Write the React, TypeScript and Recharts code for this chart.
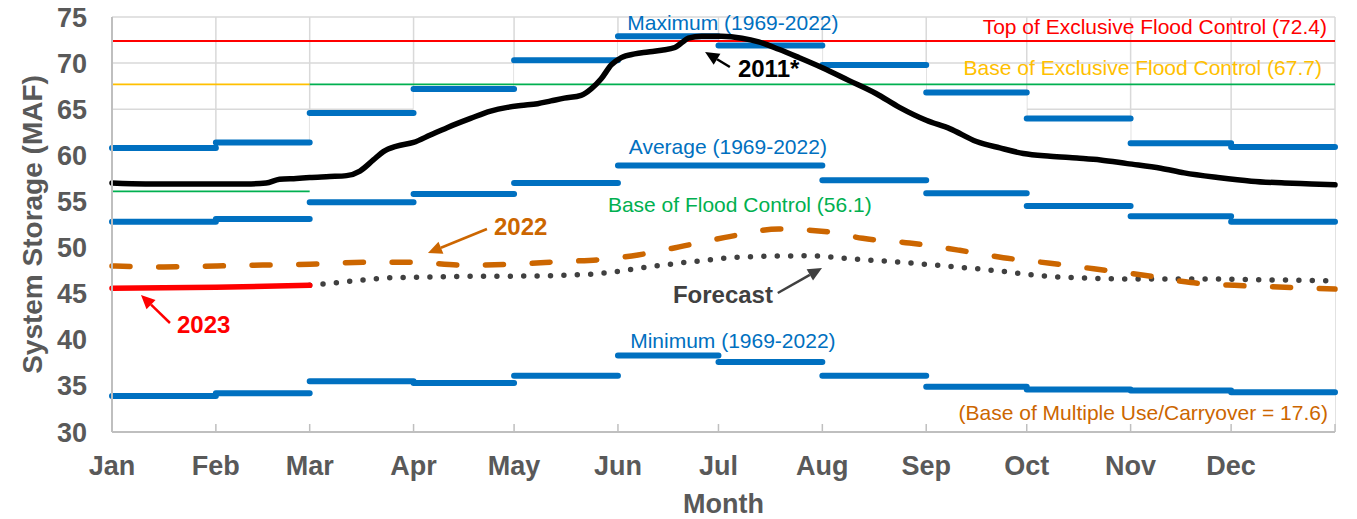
import {
  ComposedChart,
  Line,
  Area,
  XAxis,
  YAxis,
  CartesianGrid,
  ReferenceDot,
  ReferenceLine,
  Label,
} from 'recharts'

const monthLabels = ['Jan', 'Feb', 'Mar', 'Apr', 'May', 'Jun', 'Jul', 'Aug', 'Sep', 'Oct', 'Nov', 'Dec']
const monthStarts = [0, 31, 59, 90, 120, 151, 181, 212, 243, 273, 304, 334]
const yearEnd = 365
const storageTicks = [30, 35, 40, 45, 50, 55, 60, 65, 70, 75]

// monthly records 1969-2022 (MAF)
const maxStorage = [60.8, 61.4, 64.6, 67.2, 70.3, 72.9, 71.9, 69.8, 66.8, 64.0, 61.3, 60.9]
const avgStorage = [52.8, 53.1, 54.9, 55.8, 57.0, 58.9, 58.9, 57.3, 55.9, 54.5, 53.4, 52.8]
const minStorage = [33.9, 34.2, 35.5, 35.3, 36.1, 38.3, 37.6, 36.1, 34.9, 34.6, 34.5, 34.3]

// zones: [startDay, endDay, value]
const topExclusive = [[0, 365, 72.4]]
const baseExclusiveWinter = [[0, 59, 67.7]]
const baseExclusive = [[59, 365, 67.7]]
const baseFloodWinter = [[0, 59, 56.1]]

// [day, MAF]
const storage2011 = [
  [0, 57.0], [10, 56.9], [20, 56.9], [31, 56.9], [40, 56.9], [46, 57.0], [50, 57.4], [55, 57.5],
  [59, 57.6], [65, 57.7], [70, 57.8], [74, 58.3], [78, 59.5], [81, 60.4], [85, 61.0], [90, 61.4],
  [95, 62.2], [100, 63.0], [107, 64.0], [113, 64.8], [118, 65.2], [122, 65.4], [127, 65.6],
  [131, 65.9], [135, 66.2], [140, 66.5], [143, 67.2], [146, 68.3], [149, 69.8], [152, 70.6],
  [156, 71.0], [160, 71.2], [164, 71.4], [168, 71.7], [170, 72.2], [172, 72.7], [176, 72.9],
  [182, 72.9], [188, 72.7], [193, 72.3], [199, 71.5], [205, 70.6], [212, 69.5], [220, 68.1],
  [228, 66.7], [235, 65.2], [243, 63.8], [250, 62.9], [258, 61.5], [265, 60.8], [272, 60.2],
  [280, 59.9], [288, 59.7], [295, 59.5], [303, 59.1], [313, 58.6], [320, 58.1], [330, 57.6],
  [340, 57.2], [350, 57.0], [358, 56.9], [365, 56.8],
]
const storage2022 = [
  [0, 48.0], [15, 47.9], [31, 48.0], [45, 48.1], [59, 48.2], [75, 48.4], [90, 48.4], [105, 48.1],
  [120, 48.2], [135, 48.5], [146, 48.7], [157, 49.2], [167, 49.9], [183, 51.1], [199, 52.0],
  [214, 51.7], [224, 51.0], [238, 50.5], [253, 49.7], [266, 48.9], [280, 48.3], [293, 47.7],
  [308, 47.0], [322, 46.2], [335, 45.9], [350, 45.7], [365, 45.5],
]
const storage2023 = [[0, 45.6], [31, 45.7], [59, 45.9]]
const forecast2023 = [
  [59, 45.9], [70, 46.3], [82, 46.7], [95, 46.8], [110, 46.9], [120, 46.9], [135, 47.0],
  [146, 47.2], [160, 47.9], [174, 48.5], [189, 49.0], [209, 49.1], [220, 48.8], [239, 48.3],
  [261, 47.6], [283, 46.8], [305, 46.6], [326, 46.6], [345, 46.5], [365, 46.4],
]

const BLUE = '#0070C0'
const ORANGE = '#CC6600'
const GREY = '#595959'

const toPoints = (pairs: number[][]) => pairs.map(([day, v]) => ({ day, v }))
const monthEnd = (i: number) => (i < 11 ? monthStarts[i + 1] : yearEnd)
const monthSteps = (vals: number[]) =>
  vals.flatMap((v, i) => [
    { day: monthStarts[i], v },
    { day: monthEnd(i), v },
    { day: monthEnd(i), v: null },
  ])
const zone = (rows: number[][]) => rows.flatMap(([a, b, v]) => [{ day: a, v }, { day: b, v }])
const maxCover = [...monthStarts.map((day, i) => ({ day, v: maxStorage[i] })), { day: yearEnd, v: maxStorage[11] }]

const notes = [
  { text: 'Maximum (1969-2022)', day: 185.3, value: 73.59, anchor: 'middle', color: BLUE },
  { text: 'Top of Exclusive Flood Control (72.4)', day: 362.6, value: 73.16, anchor: 'end', color: '#FF0000' },
  { text: 'Base of Exclusive Flood Control (67.7)', day: 361.1, value: 68.71, anchor: 'end', color: '#FFC000' },
  { text: 'Average (1969-2022)', day: 183.8, value: 60.14, anchor: 'middle', color: BLUE },
  { text: 'Base of Flood Control (56.1)', day: 148, value: 53.85, anchor: 'start', color: '#00B050' },
  { text: 'Minimum (1969-2022)', day: 185.3, value: 39.1, anchor: 'middle', color: BLUE },
  { text: '(Base of Multiple Use/Carryover = 17.6)', day: 362.9, value: 31.3, anchor: 'end', color: ORANGE },
  { text: '2011*', day: 186.8, value: 68.49, anchor: 'start', color: '#000000', bold: true },
  { text: '2022', day: 114, value: 51.36, anchor: 'start', color: ORANGE, bold: true },
  { text: 'Forecast', day: 167.4, value: 43.99, anchor: 'start', color: '#404040', bold: true },
  { text: '2023', day: 19.4, value: 40.73, anchor: 'start', color: '#FF0000', bold: true },
]

const arrows = [
  { from: [184.4, 69.58], to: [177.0, 71.2], color: '#000000' },
  { from: [111.9, 52.01], to: [94.3, 49.41], color: ORANGE },
  { from: [198.7, 45.07], to: [211.9, 47.78], color: '#404040' },
  { from: [17.3, 41.82], to: [8.65, 44.86], color: '#FF0000' },
]

const arrowShape = (color: string) => (p: any) => {
  const { x1, y1, x2, y2 } = p
  const ang = Math.atan2(y2 - y1, x2 - x1)
  const len = 14
  const w = 6.5
  const bx = x2 - len * Math.cos(ang)
  const by = y2 - len * Math.sin(ang)
  const nx = -Math.sin(ang) * w
  const ny = Math.cos(ang) * w
  return (
    <g>
      <line x1={x1} y1={y1} x2={bx} y2={by} stroke={color} strokeWidth={2.5} />
      <polygon points={`${x2},${y2} ${bx + nx},${by + ny} ${bx - nx},${by - ny}`} fill={color} />
    </g>
  )
}

const MonthTick = (props: any) => {
  const { x, y, payload } = props
  const idx = monthStarts.indexOf(payload.value)
  return (
    <g>
      {payload.value > 0 && <line x1={x} x2={x} y1={y} y2={y - 8} stroke="#BFBFBF" strokeWidth={1.5} />}
      <text x={x} y={y + 43} textAnchor="middle" fill={GREY} fontSize={27} fontWeight="bold">
        {idx >= 0 ? monthLabels[idx] : ''}
      </text>
    </g>
  )
}

const MonthTitle = ({ viewBox }: any) => (
  <text x={viewBox.x + viewBox.width / 2} y={viewBox.y + 81} textAnchor="middle" fill={GREY} fontSize={27} fontWeight="bold">
    Month
  </text>
)

const StorageTitle = ({ viewBox }: any) => {
  const cx = viewBox.x + 42
  const cy = viewBox.y + viewBox.height / 2
  return (
    <text x={cx} y={cy} transform={`rotate(-90, ${cx}, ${cy})`} textAnchor="middle" fill={GREY} fontSize={28} fontWeight="bold">
      System Storage (MAF)
    </text>
  )
}

export default function App() {
  return (
    <div style={{ position: 'absolute', left: 0, top: 0, width: 1357, height: 519, background: '#fff', fontFamily: '"Liberation Sans", Arial, sans-serif' }}>
      <ComposedChart width={1357} height={519} margin={{ top: 17, right: 22, bottom: 0, left: 0 }}>
        <CartesianGrid stroke="#D9D9D9" strokeWidth={1.5} />
        <Area data={maxCover} dataKey="v" type="stepAfter" fill="#FFFFFF" fillOpacity={1} stroke="none" isAnimationActive={false} activeDot={false} />
        <XAxis
          dataKey="day"
          type="number"
          domain={[0, yearEnd]}
          ticks={[...monthStarts, yearEnd]}
          interval={0}
          tick={<MonthTick />}
          tickLine={false}
          tickSize={0}
          tickMargin={0}
          axisLine={{ stroke: '#BFBFBF', strokeWidth: 2 }}
          height={87}
          label={<Label content={MonthTitle} />}
        />
        <YAxis
          type="number"
          domain={[30, 75]}
          ticks={storageTicks}
          interval={0}
          tickLine={false}
          tickSize={0}
          tickMargin={25}
          axisLine={{ stroke: '#BFBFBF', strokeWidth: 2 }}
          width={112}
          tick={{ fill: GREY, fontSize: 27, fontWeight: 'bold' }}
          label={<Label content={StorageTitle} />}
        />
        <Line data={zone(topExclusive)} dataKey="v" stroke="#FF0000" strokeWidth={1.8} dot={false} activeDot={false} isAnimationActive={false} />
        <Line data={zone(baseExclusiveWinter)} dataKey="v" stroke="#FFC000" strokeWidth={1.8} dot={false} activeDot={false} isAnimationActive={false} />
        <Line data={zone(baseExclusive)} dataKey="v" stroke="#00B050" strokeWidth={1.8} dot={false} activeDot={false} isAnimationActive={false} />
        <Line data={zone(baseFloodWinter)} dataKey="v" stroke="#00B050" strokeWidth={1.8} dot={false} activeDot={false} isAnimationActive={false} />
        {[maxStorage, avgStorage, minStorage].map((vals, i) => (
          <Line
            key={i}
            data={monthSteps(vals)}
            dataKey="v"
            type="linear"
            stroke={BLUE}
            strokeWidth={6}
            strokeLinecap="round"
            dot={false}
            activeDot={false}
            connectNulls={false}
            isAnimationActive={false}
          />
        ))}
        <Line data={toPoints(forecast2023)} dataKey="v" type="monotone" stroke="#404040" strokeWidth={5.5} strokeDasharray="0 13.4" strokeLinecap="round" dot={false} activeDot={false} isAnimationActive={false} />
        <Line data={toPoints(storage2022)} dataKey="v" type="monotone" stroke={ORANGE} strokeWidth={5.5} strokeDasharray="18 28.7" strokeLinecap="round" dot={false} activeDot={false} isAnimationActive={false} />
        <Line data={toPoints(storage2023)} dataKey="v" type="monotone" stroke="#FF0000" strokeWidth={5.5} strokeLinecap="round" dot={false} activeDot={false} isAnimationActive={false} />
        <Line data={toPoints(storage2011)} dataKey="v" type="monotone" stroke="#000000" strokeWidth={5.5} strokeLinecap="round" dot={false} activeDot={false} isAnimationActive={false} />
        {arrows.map((a, i) => (
          <ReferenceLine
            key={'a' + i}
            segment={[{ x: a.from[0], y: a.from[1] }, { x: a.to[0], y: a.to[1] }]}
            shape={arrowShape(a.color)}
          />
        ))}
        {notes.map((n, i) => (
          <ReferenceDot
            key={'n' + i}
            x={n.day}
            y={n.value}
            r={0}
            shape={(p: any) => (
              <text
                x={p.cx}
                y={p.cy}
                textAnchor={n.anchor as any}
                fill={n.color}
                fontSize={n.bold ? 24 : 21}
                fontWeight={n.bold ? 'bold' : 'normal'}
              >
                {n.text}
              </text>
            )}
          />
        ))}
      </ComposedChart>
    </div>
  )
}
